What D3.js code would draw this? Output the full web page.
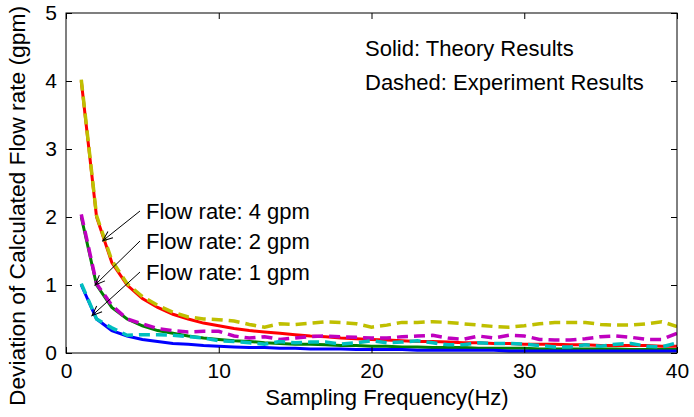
<!DOCTYPE html>
<html>
<head>
<meta charset="utf-8">
<script src="https://cdn.jsdelivr.net/npm/d3@7"></script>
<style>
  body { margin: 0; background: #fff; }
  text { font-family: "Liberation Sans", Arial, sans-serif; fill: #000; }
</style>
</head>
<body>
<div id="chart"></div>
<script>
// sampling frequency (Hz)
var freq = [1, 2, 3, 4, 5, 6, 7, 8, 9, 10, 11, 12, 13, 14, 15, 16, 17, 18, 19, 20,
    21, 22, 23, 24, 25, 26, 27, 28, 29, 30, 31, 32, 33, 34, 35, 36, 37, 38, 39, 40];

// theory results (solid)
var theory4 = [4.00, 2.00, 1.33, 1.00, 0.80, 0.67, 0.57, 0.50, 0.44, 0.40, 0.36, 0.33, 0.31, 0.29, 0.27, 0.25, 0.24, 0.22, 0.21, 0.20,
    0.19, 0.18, 0.17, 0.17, 0.16, 0.15, 0.15, 0.14, 0.14, 0.13, 0.13, 0.13, 0.12, 0.12, 0.11, 0.11, 0.11, 0.11, 0.10, 0.10];
var theory2 = [2.00, 1.00, 0.67, 0.50, 0.40, 0.33, 0.29, 0.25, 0.22, 0.20, 0.18, 0.17, 0.15, 0.14, 0.13, 0.13, 0.12, 0.11, 0.11, 0.10,
    0.10, 0.09, 0.09, 0.08, 0.08, 0.08, 0.07, 0.07, 0.07, 0.07, 0.06, 0.06, 0.06, 0.06, 0.06, 0.06, 0.05, 0.05, 0.05, 0.05];
var theory1 = [1.00, 0.50, 0.33, 0.25, 0.20, 0.17, 0.14, 0.13, 0.11, 0.10, 0.09, 0.08, 0.08, 0.07, 0.07, 0.06, 0.06, 0.06, 0.05, 0.05,
    0.05, 0.05, 0.04, 0.04, 0.04, 0.04, 0.04, 0.04, 0.03, 0.03, 0.03, 0.03, 0.03, 0.03, 0.03, 0.03, 0.03, 0.03, 0.03, 0.03];

// experiment results (dashed)
var exp4 = [4.02, 2.02, 1.36, 1.02, 0.83, 0.70, 0.60, 0.53, 0.50, 0.49, 0.47, 0.42, 0.38, 0.43, 0.42, 0.44, 0.46, 0.45, 0.43, 0.38,
    0.41, 0.45, 0.45, 0.46, 0.45, 0.43, 0.41, 0.39, 0.38, 0.40, 0.43, 0.45, 0.45, 0.45, 0.42, 0.41, 0.41, 0.43, 0.46, 0.39];
var exp2 = [2.04, 1.02, 0.70, 0.50, 0.43, 0.36, 0.33, 0.31, 0.32, 0.32, 0.25, 0.22, 0.24, 0.20, 0.22, 0.24, 0.25, 0.24, 0.23, 0.22,
    0.22, 0.24, 0.25, 0.26, 0.22, 0.20, 0.25, 0.22, 0.26, 0.25, 0.20, 0.19, 0.19, 0.21, 0.24, 0.25, 0.23, 0.20, 0.20, 0.29];
var exp1 = [1.02, 0.50, 0.37, 0.26, 0.27, 0.27, 0.26, 0.24, 0.22, 0.18, 0.17, 0.15, 0.13, 0.17, 0.15, 0.16, 0.16, 0.13, 0.15, 0.18,
    0.15, 0.16, 0.18, 0.15, 0.12, 0.12, 0.15, 0.14, 0.14, 0.13, 0.11, 0.09, 0.09, 0.12, 0.10, 0.13, 0.14, 0.10, 0.09, 0.15];

var xTicks = [0, 10, 20, 30, 40];
var yTicks = [0, 1, 2, 3, 4, 5];

var flowLabels = ["Flow rate: 4 gpm", "Flow rate: 2 gpm", "Flow rate: 1 gpm"];
// arrow tips in data coords (Hz, gpm)
var arrowTips = [[2.4, 1.65], [1.9, 1.0], [1.7, 0.55]];

function init() {
    var w = 694, h = 417;
    var mLeft = 66, mRight = 677, mTop = 13, mBottom = 353;

    var svg = d3.select("#chart").append("svg")
        .attr("width", w)
        .attr("height", h);

    var x = d3.scaleLinear().domain([0, 40]).range([mLeft, mRight]);
    var y = d3.scaleLinear().domain([0, 5]).range([mBottom, mTop]);

    var line = d3.line()
        .x((d, i) => x(freq[i]))
        .y(d => y(d));

    // solid first, dashed drawn on top
    var series = [
        { v: theory4, c: "#ff0000", dash: null, sw: 3 },
        { v: theory2, c: "#008000", dash: null, sw: 3 },
        { v: theory1, c: "#0000ff", dash: null, sw: 3 },
        { v: exp4, c: "#bfbf00", dash: "11,6", sw: 3.5 },
        { v: exp2, c: "#bf00bf", dash: "11,6", sw: 3.5 },
        { v: exp1, c: "#00bfbf", dash: "11,6", sw: 3.5 }
    ];

    var defs = svg.append("defs");
    defs.append("clipPath").attr("id", "clip")
        .append("rect")
        .attr("x", mLeft).attr("y", mTop)
        .attr("width", mRight - mLeft).attr("height", mBottom - mTop);

    svg.append("g")
        .attr("clip-path", "url(#clip)")
        .selectAll("path")
        .data(series)
        .enter()
        .append("path")
        .attr("d", d => line(d.v))
        .attr("fill", "none")
        .attr("stroke", d => d.c)
        .attr("stroke-width", d => d.sw)
        .attr("stroke-dasharray", d => d.dash);

    // axes with inward ticks on all sides
    var tick = 6;
    svg.append("g")
        .attr("transform", "translate(0," + mBottom + ")")
        .call(d3.axisBottom(x).tickValues(xTicks).tickSize(-tick).tickPadding(10).tickFormat(d3.format("d")))
        .call(g => g.select(".domain").remove())
        .call(g => g.selectAll("text").attr("font-size", "21px"));

    svg.append("g")
        .attr("transform", "translate(0," + mTop + ")")
        .call(d3.axisTop(x).tickValues(xTicks).tickSize(-tick).tickFormat(""))
        .call(g => g.select(".domain").remove());

    svg.append("g")
        .attr("transform", "translate(" + mLeft + ",0)")
        .call(d3.axisLeft(y).tickValues(yTicks).tickSize(-tick).tickPadding(9).tickFormat(d3.format("d")))
        .call(g => g.select(".domain").remove())
        .call(g => g.selectAll("text").attr("font-size", "21px"));

    svg.append("g")
        .attr("transform", "translate(" + mRight + ",0)")
        .call(d3.axisRight(y).tickValues(yTicks).tickSize(-tick).tickFormat(""))
        .call(g => g.select(".domain").remove());

    svg.selectAll(".tick line").attr("stroke", "#000");

    svg.append("rect")
        .attr("x", mLeft).attr("y", mTop)
        .attr("width", mRight - mLeft).attr("height", mBottom - mTop)
        .attr("fill", "none")
        .attr("stroke", "#000")
        .attr("stroke-width", 1);

    // axis labels
    svg.append("text")
        .attr("x", 387)
        .attr("y", 405)
        .attr("text-anchor", "middle")
        .attr("font-size", "22px")
        .text("Sampling Frequency(Hz)");

    svg.append("text")
        .attr("transform", "translate(25,206) rotate(-90)")
        .attr("text-anchor", "middle")
        .attr("font-size", "22px")
        .attr("textLength", 400)
        .attr("lengthAdjust", "spacingAndGlyphs")
        .text("Deviation of Calculated Flow rate (gpm)");

    // legend notes
    svg.append("text").attr("x", 365).attr("y", 56).attr("font-size", "22px").text("Solid: Theory Results");
    svg.append("text").attr("x", 365).attr("y", 90).attr("font-size", "22px").text("Dashed: Experiment Results");

    // flow rate annotations with arrows
    defs.append("marker")
        .attr("id", "arrow")
        .attr("viewBox", "0 0 12 12")
        .attr("refX", 11).attr("refY", 6)
        .attr("markerWidth", 12).attr("markerHeight", 12)
        .attr("markerUnits", "userSpaceOnUse")
        .attr("orient", "auto")
        .append("path")
        .attr("d", "M1,2 L11,6 L1,10")
        .attr("fill", "none")
        .attr("stroke", "#000")
        .attr("stroke-width", 1);

    var labelY = [219, 249, 280];
    flowLabels.forEach(function (t, i) {
        svg.append("text")
            .attr("x", 146)
            .attr("y", labelY[i])
            .attr("font-size", "22px")
            .text(t);
        svg.append("line")
            .attr("x1", 140).attr("y1", labelY[i] - 8)
            .attr("x2", x(arrowTips[i][0])).attr("y2", y(arrowTips[i][1]))
            .attr("stroke", "#000")
            .attr("stroke-width", 1)
            .attr("marker-end", "url(#arrow)");
    });
}

window.onload = init;
</script>
</body>
</html>
